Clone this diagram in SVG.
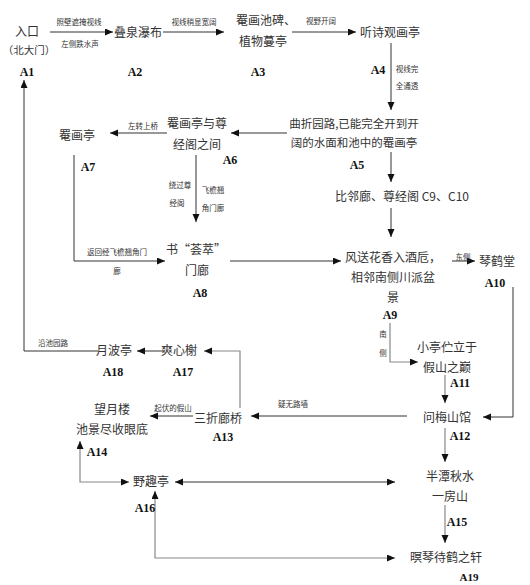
<svg xmlns="http://www.w3.org/2000/svg" width="530" height="585" viewBox="0 0 530 585">
<defs>
<marker id="ah" markerUnits="userSpaceOnUse" markerWidth="9" markerHeight="8" refX="8" refY="3.5" orient="auto-start-reverse">
<path d="M0,0 L8,3.5 L0,7 z" fill="#111"/>
</marker>
<style>
.n{font-family:"Noto Sans CJK SC","Liberation Serif",serif;font-size:12px;fill:#333;text-anchor:middle}
.id{font-family:"Liberation Serif","DejaVu Serif",serif;font-size:12px;font-weight:bold;fill:#111;text-anchor:middle}
.l{font-family:"Noto Sans CJK SC",sans-serif;font-size:7.5px;fill:#333;text-anchor:middle}
.c{fill:none;stroke:#333;stroke-width:1}
.g{fill:none;stroke:#888;stroke-width:1.2}
</style>
</defs>
<rect width="530" height="585" fill="#fff"/>
<g id="connectors">
<path class="c" d="M50,32 H113" marker-end="url(#ah)"/>
<text class="l" x="79" y="25">照壁遮掩视线</text>
<text class="l" x="80" y="47">左侧跌水声</text>
<path class="c" d="M163,32 H224" marker-end="url(#ah)"/>
<text class="l" x="194" y="25">视线稍显宽阔</text>
<path class="c" d="M292,32 H356" marker-end="url(#ah)"/>
<text class="l" x="321" y="24">视野开阔</text>
<path class="c" d="M391,43 V110" marker-end="url(#ah)"/>
<text class="l" x="407" y="72">视线完</text>
<text class="l" x="407" y="89">全通透</text>
<path class="c" d="M287,133 H231" marker-end="url(#ah)"/>
<path class="c" d="M167,133 H110" marker-end="url(#ah)"/>
<text class="l" x="143" y="129">左转上桥</text>
<path class="c" d="M74,155 V261 H165" marker-end="url(#ah)"/>
<text class="l" x="117" y="255">返回经飞檐翘角门</text>
<text class="l" x="117" y="274">廊</text>
<path class="c" d="M196,155 V222" marker-end="url(#ah)"/>
<text class="l" x="180" y="188">绕过尊</text>
<text class="l" x="177" y="206">经阁</text>
<text class="l" x="213" y="193">飞檐翘</text>
<text class="l" x="213" y="211">角门廊</text>
<path class="c" d="M230,261 H341" marker-end="url(#ah)"/>
<path class="c" d="M391,152 V182" marker-end="url(#ah)"/>
<path class="c" d="M391,208 V237" marker-end="url(#ah)"/>
<path class="c" d="M452,261 H475" marker-end="url(#ah)"/>
<text class="l" x="463" y="260">东侧</text>
<path class="c" d="M513,287 V417 H483" marker-end="url(#ah)"/>
<path class="g" d="M390,323 V362 H418" marker-end="url(#ah)"/>
<text class="l" x="383" y="337">南</text>
<text class="l" x="383" y="356">侧</text>
<path class="g" d="M445,375 V403" marker-end="url(#ah)"/>
<path class="c" d="M407,416 H251" marker-end="url(#ah)"/>
<text class="l" x="293" y="407">疑无路墙</text>
<path class="g" d="M240,408 V351 H204" marker-end="url(#ah)"/>
<path class="c" d="M163,351 H137" marker-end="url(#ah)"/>
<path class="c" d="M98,351 H24 V80" marker-end="url(#ah)"/>
<text class="l" x="53" y="346">沿池园路</text>
<path class="c" d="M193,416 H150" marker-end="url(#ah)"/>
<text class="l" x="173" y="411">起伏的假山</text>
<path class="g" d="M80,441 V482 H129" marker-start="url(#ah)" marker-end="url(#ah)"/>
<path class="c" d="M175,482 H395" marker-start="url(#ah)" marker-end="url(#ah)"/>
<path class="g" d="M445,428 V462" marker-end="url(#ah)"/>
<path class="g" d="M445,505 V543" marker-end="url(#ah)"/>
<path class="g" d="M155,491 V558 H395" marker-start="url(#ah)" marker-end="url(#ah)"/>
</g>
<g id="A1"><text class="n" x="27" y="36">入口</text><text class="n" x="29" y="54" style="font-size:10.5px">（北大门）</text><text class="id" x="27" y="76">A1</text></g>
<g id="A2"><text class="n" x="138" y="37">叠泉瀑布</text><text class="id" x="135" y="76">A2</text></g>
<g id="A3"><text class="n" x="266" y="25">罨画池碑、</text><text class="n" x="263" y="46">植物蔓亭</text><text class="id" x="258" y="76">A3</text></g>
<g id="A4"><text class="n" x="390" y="37">听诗观画亭</text><text class="id" x="378" y="74">A4</text></g>
<g id="A5"><text class="n" x="354" y="128" style="font-size:11.5px">曲折园路,已能完全开到开</text><text class="n" x="354" y="147" style="font-size:11.5px">阔的水面和池中的罨画亭</text><text class="id" x="357" y="169">A5</text></g>
<g id="C9"><text class="n" x="402" y="201">比邻廊、尊经阁 C9、C10</text></g>
<g id="A6"><text class="n" x="197" y="128">罨画亭与尊</text><text class="n" x="197" y="149">经阁之间</text><text class="id" x="230" y="164">A6</text></g>
<g id="A7"><text class="n" x="77" y="140">罨画亭</text><text class="id" x="88" y="171">A7</text></g>
<g id="A8"><text class="n" x="196" y="254">书“荟萃”</text><text class="n" x="197" y="275">门廊</text><text class="id" x="200" y="297">A8</text></g>
<g id="A9"><text class="n" x="393" y="262">风送花香入酒卮，</text><text class="n" x="393" y="282">相邻南侧川派盆</text><text class="n" x="393" y="302">景</text><text class="id" x="390" y="319">A9</text></g>
<g id="A10"><text class="n" x="497" y="266">琴鹤堂</text><text class="id" x="495" y="287">A10</text></g>
<g id="A11"><text class="n" x="447" y="352">小亭伫立于</text><text class="n" x="447" y="372">假山之巅</text><text class="id" x="460" y="387">A11</text></g>
<g id="A12"><text class="n" x="447" y="422">问梅山馆</text><text class="id" x="460" y="440">A12</text></g>
<g id="A13"><text class="n" x="218" y="423">三折廊桥</text><text class="id" x="223" y="441">A13</text></g>
<g id="A14"><text class="n" x="112" y="414">望月楼</text><text class="n" x="112" y="434">池景尽收眼底</text><text class="id" x="97" y="456">A14</text></g>
<g id="A15"><text class="n" x="450" y="481">半潭秋水</text><text class="n" x="450" y="501">一房山</text><text class="id" x="457" y="526">A15</text></g>
<g id="A16"><text class="n" x="151" y="486">野趣亭</text><text class="id" x="145" y="512">A16</text></g>
<g id="A17"><text class="n" x="179" y="355">爽心榭</text><text class="id" x="183" y="376">A17</text></g>
<g id="A18"><text class="n" x="114" y="355">月波亭</text><text class="id" x="113" y="376">A18</text></g>
<g id="A19"><text class="n" x="446" y="562">暝琴待鹤之轩</text><text class="id" x="469" y="581" style="font-size:11px">A19</text></g>
</svg>
